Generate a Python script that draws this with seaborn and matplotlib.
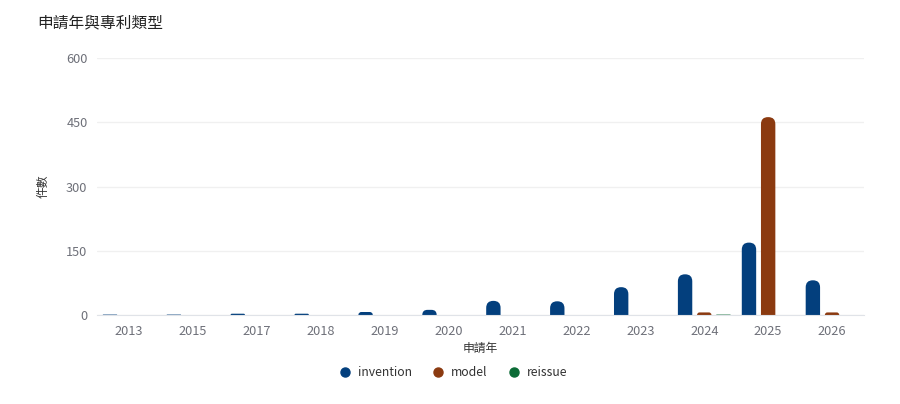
import pandas as pd
import seaborn as sns
import matplotlib.pyplot as plt
from matplotlib.patches import FancyBboxPatch
from matplotlib.lines import Line2D

# data
years = ['2013', '2015', '2017', '2018', '2019', '2020', '2021', '2022', '2023', '2024', '2025', '2026']
invention = [1, 1, 3, 3, 7, 12, 33, 32, 65, 95, 169, 81]
model = [0, 0, 0, 0, 0, 0, 0, 0, 0, 6, 462, 6]
reissue = [0, 0, 0, 0, 0, 0, 0, 0, 0, 1, 0, 0]
types = ['invention', 'model', 'reissue']
colors = ['#033f7d', '#8b3a10', '#0b6b36']

df = pd.DataFrame({
    'year': years * 3,
    'type': [t for t in types for _ in years],
    'count': invention + model + reissue,
})

sns.set_style('white')
plt.rcParams['font.family'] = ['Noto Sans CJK TC', 'DejaVu Sans']

fig = plt.figure(figsize=(9, 4.04), dpi=100)
ax = fig.add_axes([0.108, 0.2203, 0.852, 0.6361])

sns.barplot(data=df, x='year', y='count', hue='type', hue_order=types,
            palette=colors, width=0.9, gap=0.25, legend=False, ax=ax,
            saturation=1, errorbar=None)

ax.set_ylim(0, 600)
ax.set_xlim(-0.5, len(years) - 0.5)
ax.set_yticks([0, 150, 300, 450, 600])
ax.yaxis.grid(True, color='#f0f0f0', linewidth=1)
ax.set_axisbelow(True)
for s in ['top', 'right', 'left']:
    ax.spines[s].set_visible(False)
ax.spines['bottom'].set_color('#e0e3e8')
ax.tick_params(axis='both', length=0, labelsize=9.2, colors='#6e7079', pad=7)
ax.set_xlabel('申請年', fontsize=8.5, color='#333333', labelpad=3)
ax.set_ylabel('件數', fontsize=8.5, color='#333333', labelpad=12)

# rounded tops on the bars
p0 = ax.transData.transform((0, 0))
p1 = ax.transData.transform((1, 1))
ux = 1 / (p1[0] - p0[0])
uy = 1 / (p1[1] - p0[1])
bars = [p for p in ax.patches]
for p in bars:
    x, y, w, h = p.get_x(), p.get_y(), p.get_width(), p.get_height()
    if h <= 0:
        p.remove()
        continue
    r = min(7, (w / ux) / 2, h / uy)
    fb = FancyBboxPatch((x, y - r * uy), w, h + r * uy,
                        boxstyle=f'round,pad=0,rounding_size={r * ux}',
                        mutation_aspect=uy / ux,
                        facecolor=p.get_facecolor(), edgecolor='none')
    p.remove()
    ax.add_patch(fb)

fig.text(0.041, 0.943, '申請年與專利類型', fontsize=11.3, color='#222222', va='center')

handles = [Line2D([], [], marker='o', linestyle='none', markersize=6.5,
                  markerfacecolor=c, markeredgecolor=c) for c in colors]
fig.legend(handles, types, loc='center', bbox_to_anchor=(0.5, 0.077), ncol=3,
           frameon=False, fontsize=8.8, labelcolor='#333333',
           handletextpad=0.1, columnspacing=1.1)

fig.savefig('out.png', dpi=100)
